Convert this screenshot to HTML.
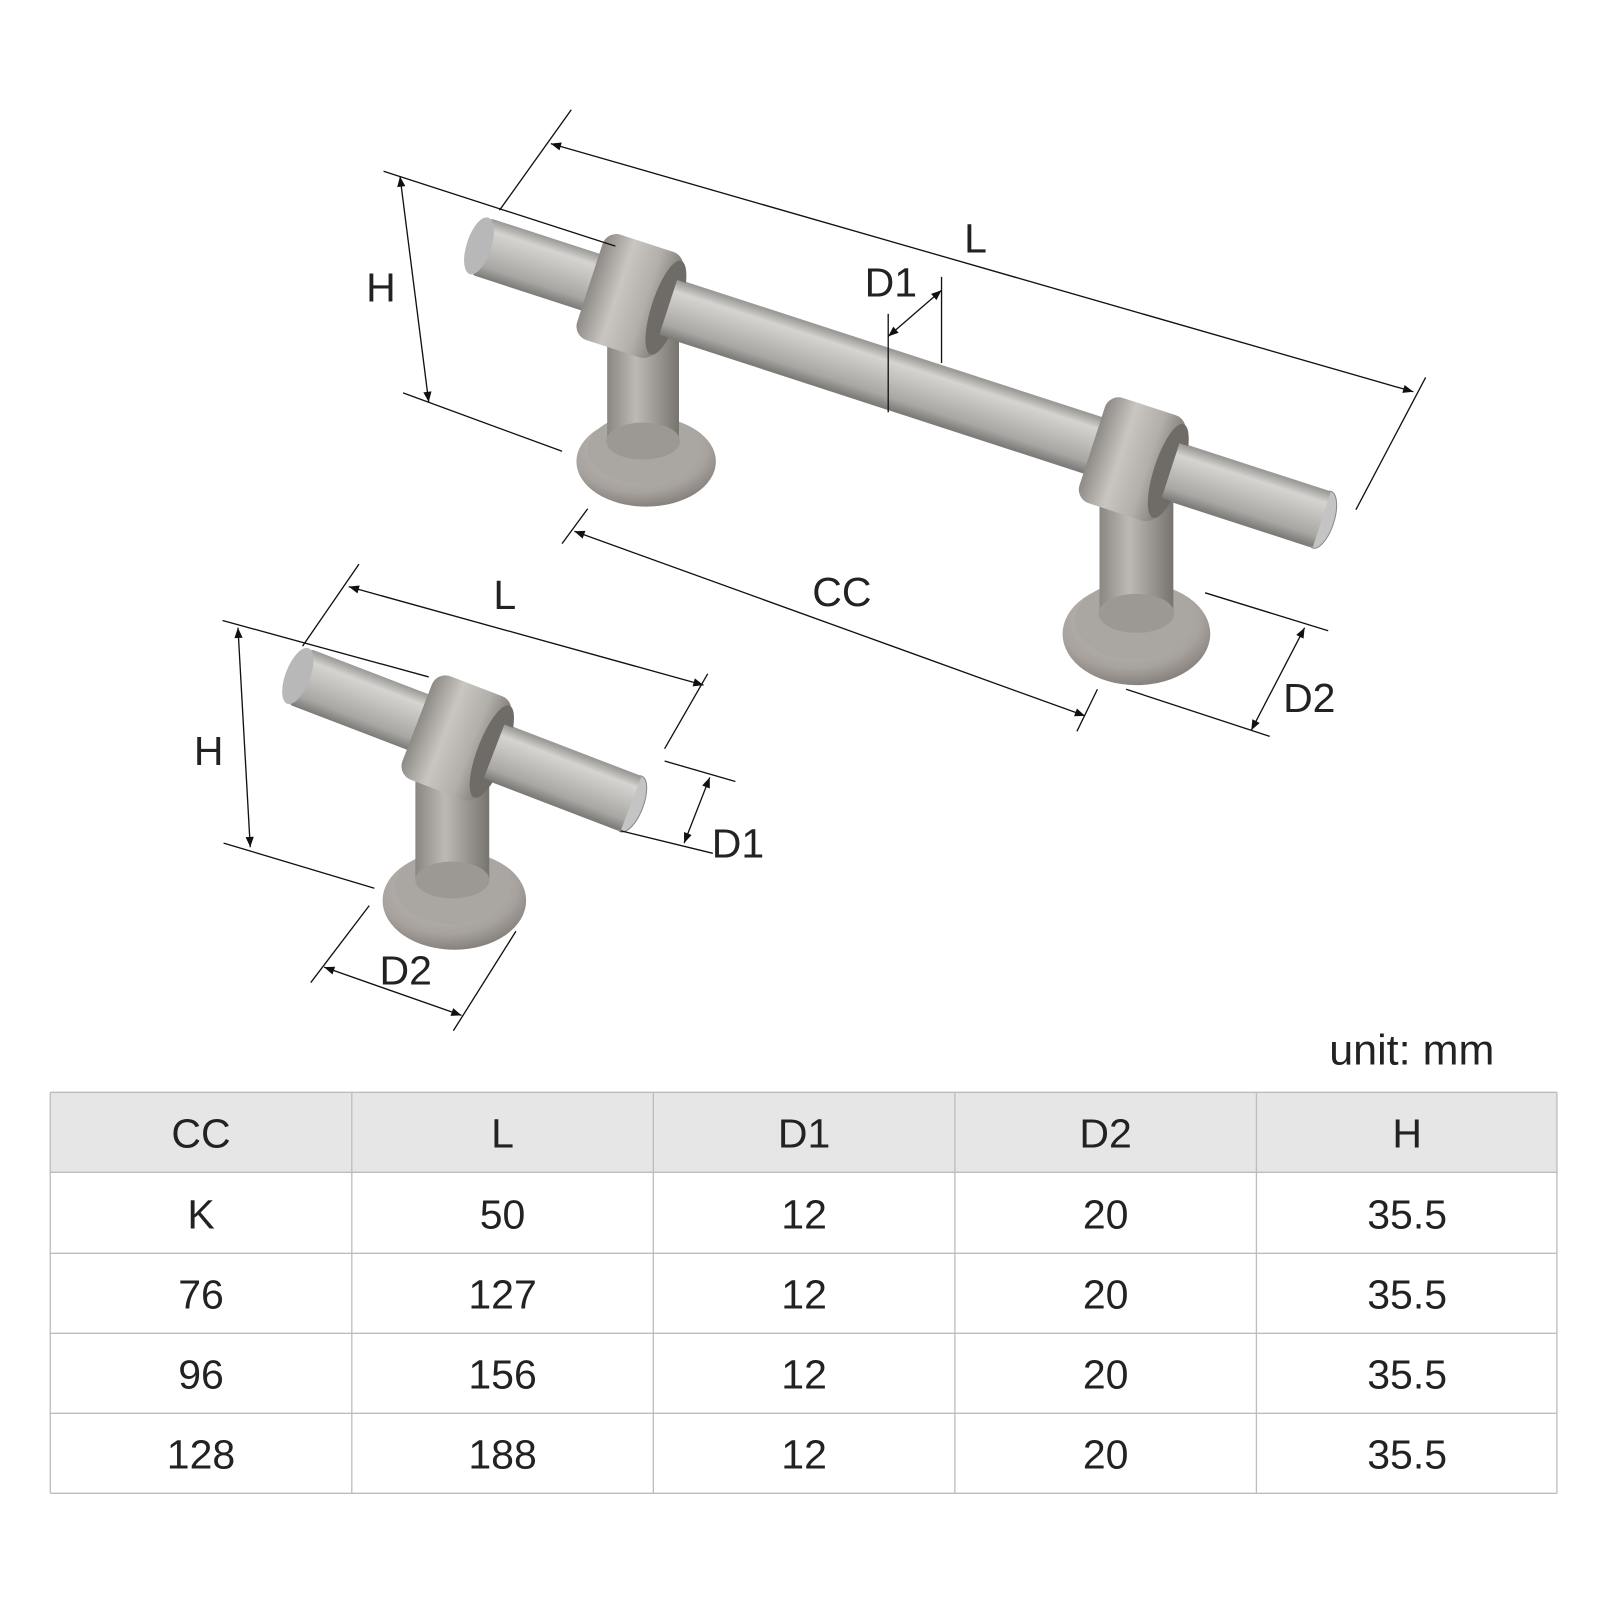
<!DOCTYPE html>
<html><head><meta charset="utf-8">
<style>
html,body{margin:0;padding:0;background:#fff;}
svg{display:block;}
text{font-family:"Liberation Sans","Noto Sans CJK SC",sans-serif;fill:#222;}
</style></head>
<body>
<svg width="1600" height="1600" viewBox="0 0 1560 1560" xmlns="http://www.w3.org/2000/svg">
<defs>
<linearGradient id="bar" x1="0" y1="0" x2="0" y2="1">
<stop offset="0" stop-color="#9a9895"/><stop offset="0.2" stop-color="#d6d4d1"/><stop offset="0.45" stop-color="#c4c2bf"/><stop offset="0.8" stop-color="#a9a7a4"/><stop offset="1" stop-color="#7c7a77"/>
</linearGradient>
<linearGradient id="col" x1="0" y1="0" x2="1" y2="0">
<stop offset="0" stop-color="#8e8a86"/><stop offset="0.35" stop-color="#c9c6c2"/><stop offset="0.7" stop-color="#b2aeaa"/><stop offset="1" stop-color="#7e7a76"/>
</linearGradient>
<linearGradient id="post" x1="0" y1="0" x2="1" y2="0">
<stop offset="0" stop-color="#8a8680"/><stop offset="0.4" stop-color="#bdb9b4"/><stop offset="1" stop-color="#77736e"/>
</linearGradient>
<radialGradient id="base" cx="0.45" cy="0.35" r="0.7">
<stop offset="0" stop-color="#c8c4bf"/><stop offset="0.7" stop-color="#a7a29d"/><stop offset="1" stop-color="#7d7873"/>
</radialGradient>
<marker id="ar" viewBox="0 0 10 10" refX="10" refY="5" markerWidth="14" markerHeight="10" markerUnits="userSpaceOnUse" orient="auto-start-reverse">
<path d="M0,1 L10,5 L0,9 z" fill="#111"/></marker>
</defs>

<!-- BIG HANDLE -->
<g>
<ellipse cx="630" cy="450" rx="68" ry="44" fill="url(#base)"/>
<ellipse cx="628" cy="438" rx="55" ry="34" fill="#aaa6a1"/>
<rect x="592" y="310" width="70" height="120" fill="url(#post)"/>
<ellipse cx="627" cy="430" rx="36" ry="18" fill="#9c9893"/>
<ellipse cx="1108" cy="618" rx="72" ry="50" fill="url(#base)"/>
<ellipse cx="1106" cy="605" rx="58" ry="38" fill="#aaa6a1"/>
<rect x="1072" y="480" width="72" height="120" fill="url(#post)"/>
<ellipse cx="1108" cy="598" rx="37" ry="19" fill="#9c9893"/>
<g transform="translate(480,245) rotate(18)">
<rect x="-14" y="-30" width="866" height="58" rx="6" fill="url(#bar)"/>
<ellipse cx="-14" cy="-1" rx="12" ry="29" fill="#b8b8b8"/>
<ellipse cx="850" cy="-1" rx="12" ry="29" fill="#c4c4c4" stroke="#888" stroke-width="1"/>
<rect x="100" y="-54" width="82" height="108" rx="14" fill="url(#col)"/>
<ellipse cx="178" cy="0" rx="14" ry="48" fill="#6f6b67"/>
<rect x="615" y="-54" width="82" height="108" rx="14" fill="url(#col)"/>
<ellipse cx="693" cy="0" rx="14" ry="48" fill="#6f6b67"/>
<rect x="180" y="-29" width="435" height="56" fill="url(#bar)"/>
<rect x="695" y="-29" width="155" height="56" fill="url(#bar)"/>
</g>
</g>

<!-- SMALL HANDLE -->
<g>
<ellipse cx="443" cy="878" rx="70" ry="48" fill="url(#base)"/>
<ellipse cx="441" cy="865" rx="56" ry="36" fill="#aaa6a1"/>
<rect x="405" y="745" width="72" height="113" fill="url(#post)"/>
<ellipse cx="441" cy="858" rx="36" ry="18" fill="#9c9893"/>
<g transform="translate(290,660) rotate(21)">
<rect x="0" y="-30" width="350" height="58" rx="6" fill="url(#bar)"/>
<ellipse cx="0" cy="-1" rx="12" ry="29" fill="#b8b8b8"/>
<ellipse cx="348" cy="-1" rx="12" ry="29" fill="#c4c4c4" stroke="#888" stroke-width="1"/>
<rect x="125" y="-54" width="82" height="108" rx="14" fill="url(#col)"/>
<ellipse cx="203" cy="0" rx="14" ry="48" fill="#6f6b67"/>
<rect x="205" y="-29" width="143" height="56" fill="url(#bar)"/>
</g>
</g>

<!-- DIMENSIONS -->
<g stroke="#111" stroke-width="1.3" fill="none">
<line x1="557" y1="107" x2="487" y2="205"/>
<line x1="1390" y1="368" x2="1322" y2="497"/>
<line x1="537" y1="140" x2="1378" y2="382" marker-start="url(#ar)" marker-end="url(#ar)"/>
<line x1="374" y1="167" x2="600" y2="240"/>
<line x1="393" y1="383" x2="548" y2="440"/>
<line x1="390" y1="172" x2="418" y2="392" marker-start="url(#ar)" marker-end="url(#ar)"/>
<line x1="866" y1="306" x2="866" y2="402"/>
<line x1="918" y1="270" x2="918" y2="354"/>
<line x1="866" y1="328" x2="918" y2="283" marker-start="url(#ar)" marker-end="url(#ar)"/>
<line x1="573" y1="496" x2="548" y2="530"/>
<line x1="1070" y1="672" x2="1050" y2="713"/>
<line x1="560" y1="518" x2="1058" y2="698" marker-start="url(#ar)" marker-end="url(#ar)"/>
<line x1="1175" y1="578" x2="1295" y2="615"/>
<line x1="1098" y1="672" x2="1238" y2="718"/>
<line x1="1272" y1="612" x2="1220" y2="712" marker-start="url(#ar)" marker-end="url(#ar)"/>
<line x1="350" y1="550" x2="295" y2="630"/>
<line x1="690" y1="657" x2="648" y2="730"/>
<line x1="340" y1="572" x2="686" y2="668" marker-start="url(#ar)" marker-end="url(#ar)"/>
<line x1="217" y1="605" x2="418" y2="660"/>
<line x1="218" y1="822" x2="365" y2="866"/>
<line x1="232" y1="612" x2="244" y2="826" marker-start="url(#ar)" marker-end="url(#ar)"/>
<line x1="648" y1="742" x2="717" y2="762"/>
<line x1="605" y1="810" x2="695" y2="832"/>
<line x1="692" y1="758" x2="667" y2="822" marker-start="url(#ar)" marker-end="url(#ar)"/>
<line x1="360" y1="883" x2="303" y2="958"/>
<line x1="503" y1="908" x2="442" y2="1005"/>
<line x1="316" y1="943" x2="450" y2="990" marker-start="url(#ar)" marker-end="url(#ar)"/>
</g>
<g font-size="40">
<text x="940" y="246">L</text>
<text x="357" y="294">H</text>
<text x="843" y="289">D1</text>
<text x="792" y="591">CC</text>
<text x="1251" y="694">D2</text>
<text x="481" y="594">L</text>
<text x="189" y="746">H</text>
<text x="694" y="836">D1</text>
<text x="370" y="960">D2</text>
<text x="1296" y="1038" font-size="42">unit: mm</text>
</g>

<!-- TABLE -->
<rect x="49" y="1065" width="1469" height="78" fill="#e6e6e6"/>
<g stroke="#bdbdbd" stroke-width="1.3">
<line x1="49" y1="1065" x2="1518" y2="1065"/>
<line x1="49" y1="1143" x2="1518" y2="1143"/>
<line x1="49" y1="1222" x2="1518" y2="1222"/>
<line x1="49" y1="1300" x2="1518" y2="1300"/>
<line x1="49" y1="1378" x2="1518" y2="1378"/>
<line x1="49" y1="1456" x2="1518" y2="1456"/>
<line x1="49" y1="1065" x2="49" y2="1456"/>
<line x1="343" y1="1065" x2="343" y2="1456"/>
<line x1="637" y1="1065" x2="637" y2="1456"/>
<line x1="931" y1="1065" x2="931" y2="1456"/>
<line x1="1225" y1="1065" x2="1225" y2="1456"/>
<line x1="1518" y1="1065" x2="1518" y2="1456"/>
</g>
<g font-size="40" text-anchor="middle">
<text x="196" y="1119">CC</text><text x="490" y="1119">L</text><text x="784" y="1119">D1</text><text x="1078" y="1119">D2</text><text x="1372" y="1119">H</text>
<text x="196" y="1198">K</text><text x="490" y="1198">50</text><text x="784" y="1198">12</text><text x="1078" y="1198">20</text><text x="1372" y="1198">35.5</text>
<text x="196" y="1276">76</text><text x="490" y="1276">127</text><text x="784" y="1276">12</text><text x="1078" y="1276">20</text><text x="1372" y="1276">35.5</text>
<text x="196" y="1354">96</text><text x="490" y="1354">156</text><text x="784" y="1354">12</text><text x="1078" y="1354">20</text><text x="1372" y="1354">35.5</text>
<text x="196" y="1432">128</text><text x="490" y="1432">188</text><text x="784" y="1432">12</text><text x="1078" y="1432">20</text><text x="1372" y="1432">35.5</text>
</g>
</svg>
</body></html>
